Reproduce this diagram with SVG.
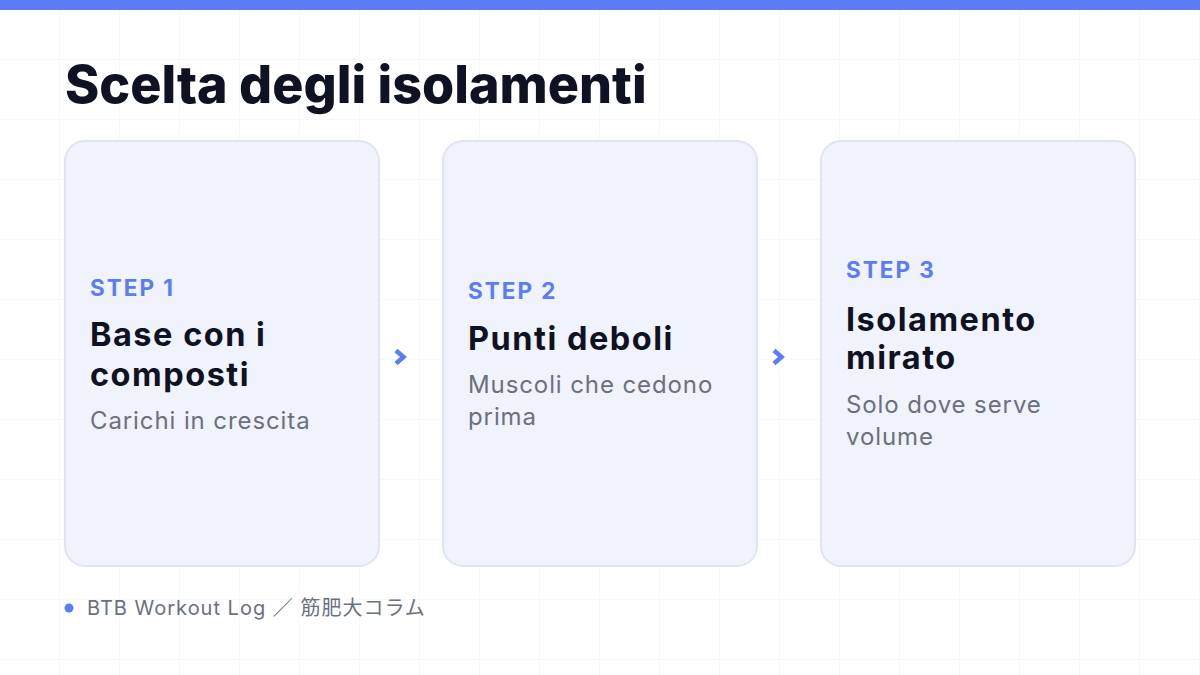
<svg xmlns="http://www.w3.org/2000/svg" width="1200" height="675" viewBox="0 0 1200 675">
<defs>
<pattern id="grid" width="60" height="60" patternUnits="userSpaceOnUse">
<path d="M60 0V60M0 60H60" fill="none" stroke="#eef0f4" stroke-width="1"/>
</pattern>
<style>
.card{fill:#f0f3fc;stroke:#e0e4f0;stroke-width:2}
.step{font-family:Inter,"Liberation Sans",sans-serif;font-weight:700;font-size:22.5px;letter-spacing:2px;fill:#5b7cf5}
.title{font-family:Inter,"Liberation Sans",sans-serif;font-weight:700;font-size:32.5px;letter-spacing:1.5px;fill:#0f1222}
.sub{font-family:Inter,"Liberation Sans",sans-serif;font-weight:400;font-size:24px;letter-spacing:0.9px;fill:#6b7080}
.chev{fill:none;stroke:#5b7cf5;stroke-width:4.5;stroke-linecap:butt;stroke-linejoin:miter}
</style>
</defs>
<rect width="1200" height="675" fill="#ffffff"/>
<rect width="1200" height="675" fill="url(#grid)"/>
<rect width="1200" height="10" fill="#5b7cf5"/>
<text x="65" y="103" font-family="Inter,'Liberation Sans',sans-serif" font-weight="800" font-size="52" fill="#0f1222">Scelta degli isolamenti</text>
<g id="step1">
<rect class="card" x="65" y="141" width="314" height="425" rx="20"/>
<text class="step" x="90" y="296">STEP 1</text>
<text class="title" x="90" y="346">Base con i</text>
<text class="title" x="90" y="386">composti</text>
<text class="sub" x="90" y="429">Carichi in crescita</text>
</g>
<g id="step2">
<rect class="card" x="443" y="141" width="314" height="425" rx="20"/>
<text class="step" x="468" y="299">STEP 2</text>
<text class="title" x="468" y="350">Punti deboli</text>
<text class="sub" x="468" y="393">Muscoli che cedono</text>
<text class="sub" x="468" y="425">prima</text>
</g>
<g id="step3">
<rect class="card" x="821" y="141" width="314" height="425" rx="20"/>
<text class="step" x="846" y="278">STEP 3</text>
<text class="title" x="846" y="331">Isolamento</text>
<text class="title" x="846" y="369">mirato</text>
<text class="sub" x="846" y="413">Solo dove serve</text>
<text class="sub" x="846" y="445">volume</text>
</g>
<g id="connectors">
<path class="chev" d="M396 350.5L403.5 357L396 363.5"/>
<path class="chev" d="M774 350.5L781.5 357L774 363.5"/>
</g>
<g id="footer">
<circle cx="69" cy="608" r="4.5" fill="#5b7cf5"/>
<text x="87" y="615" font-family="Inter,'Liberation Sans','Noto Sans CJK JP',sans-serif" font-size="20" letter-spacing="1" fill="#6b7080">BTB Workout Log ／ 筋肥大コラム</text>
</g>
</svg>
